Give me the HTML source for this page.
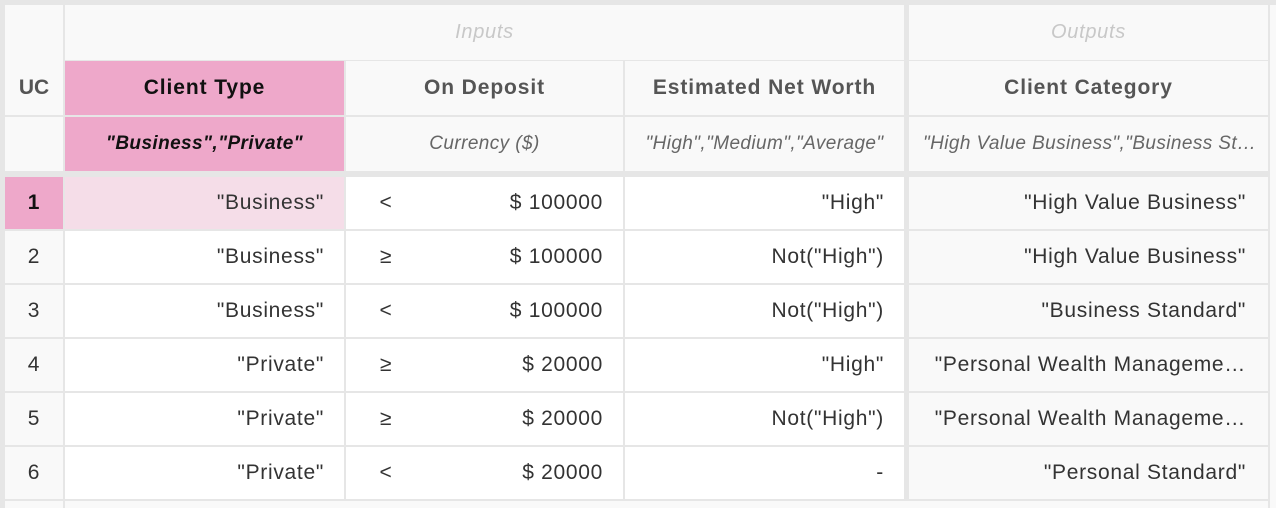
<!DOCTYPE html>
<html><head><meta charset="utf-8"><style>
body{margin:0;width:1276px;height:508px;background:#f7f7f7;font-family:"Liberation Sans",sans-serif;position:relative;overflow:hidden}
.c{position:absolute;box-sizing:border-box;display:flex;align-items:center;font-size:21px;letter-spacing:0.7px;color:#333;white-space:nowrap;overflow:hidden}
.r{justify-content:flex-end;padding-right:20px}
.m{justify-content:center}
.l{justify-content:flex-start;padding-left:18px}
.h{font-weight:bold;font-size:21px;letter-spacing:0.9px;color:#555}
.t{font-style:italic;font-size:19px;letter-spacing:0.4px;color:#666}
.g{font-style:italic;font-size:20px;color:#c8c8c8}
</style></head><body>
<div style="position:absolute;left:0;top:0;width:1276px;height:508px;background:#e6e6e6">
<div id="t"></div>
</div>
<script>
const rowsY=[[177,52],[231,52],[285,52],[339,52],[393,52],[447,52]];
const ops=['<','≥','<','≥','≥','<'];
const deps=['$ 100000','$ 100000','$ 100000','$ 20000','$ 20000','$ 20000'];
const types=['"Business"','"Business"','"Business"','"Private"','"Private"','"Private"'];
const worth=['"High"','Not("High")','Not("High")','"High"','Not("High")','-'];
const cats=['"High Value Business"','"High Value Business"','"Business Standard"','"Personal Wealth Manageme…','"Personal Wealth Manageme…','"Personal Standard"'];
const root=document.getElementById('t').parentNode;
function cell(x,y,w,h,cls,txt,bg,name,extra){
 const d=document.createElement('div');d.className='c '+cls;
 d.style.left=x+'px';d.style.top=y+'px';d.style.width=w+'px';d.style.height=h+'px';d.style.background=bg;
 if(extra)d.style.cssText+=extra;
 d.textContent=txt;
 
 
 root.appendChild(d);return d;}
cell(5,5,58,110,'m','','#f9f9f9','uc-header-blank');
cell(65,5,839,55,'m g','Inputs','#f9f9f9','inputs-group-label');
cell(909,5,359,55,'m g','Outputs','#f9f9f9','outputs-group-label');
cell(5,61,58,54,'m h','UC','#f9f9f9','uc-header','letter-spacing:0');
cell(65,61,279,54,'m h','Client Type','#eea8ca','client-type-header','color:#111');
cell(346,61,277,54,'m h','On Deposit','#f9f9f9','on-deposit-header');
cell(625,61,279,54,'m h','Estimated Net Worth','#f9f9f9','net-worth-header');
cell(909,61,359,54,'m h','Client Category','#f9f9f9','client-category-header');
cell(5,117,58,54,'m','','#f9f9f9','uc-type-blank');
cell(65,117,279,54,'m t','"Business","Private"','#eea8ca','client-type-values','color:#111;font-weight:bold');
cell(346,117,277,54,'m t','Currency ($)','#f9f9f9','on-deposit-type');
cell(625,117,279,54,'m t','"High","Medium","Average"','#f9f9f9','net-worth-values');
cell(909,117,359,54,'l t','"High Value Business","Business St…','#f9f9f9','client-category-values','padding-left:14px');
cell(1270,5,6,503,'m','','#f9f9f9','right-edge');
rowsY.forEach((r,i)=>{
 const [y,h]=r;const sel=i===0;
 cell(5,y,58,h,'m',String(i+1),sel?'#eea8ca':'#f9f9f9','rule-number-'+(i+1),sel?'font-weight:bold;color:#111':'');
 cell(65,y,279,h,'r',types[i],sel?'#f5dde8':'#fff','client-type-cell-'+(i+1));
 cell(346,y,277,h,'r',deps[i],'#fff','on-deposit-cell-'+(i+1));
 cell(346,y,80,h,'m',ops[i],'transparent','operator-'+(i+1));
 cell(625,y,279,h,'r',worth[i],'#fff','net-worth-cell-'+(i+1));
 cell(909,y,359,h,'r',cats[i],'#f9f9f9','client-category-cell-'+(i+1),'padding-right:22px');
});
cell(5,501,58,7,'m','','#f9f9f9','footer-uc');
cell(65,501,1203,7,'m','','#f9f9f9','footer');
</script>
</body></html>
